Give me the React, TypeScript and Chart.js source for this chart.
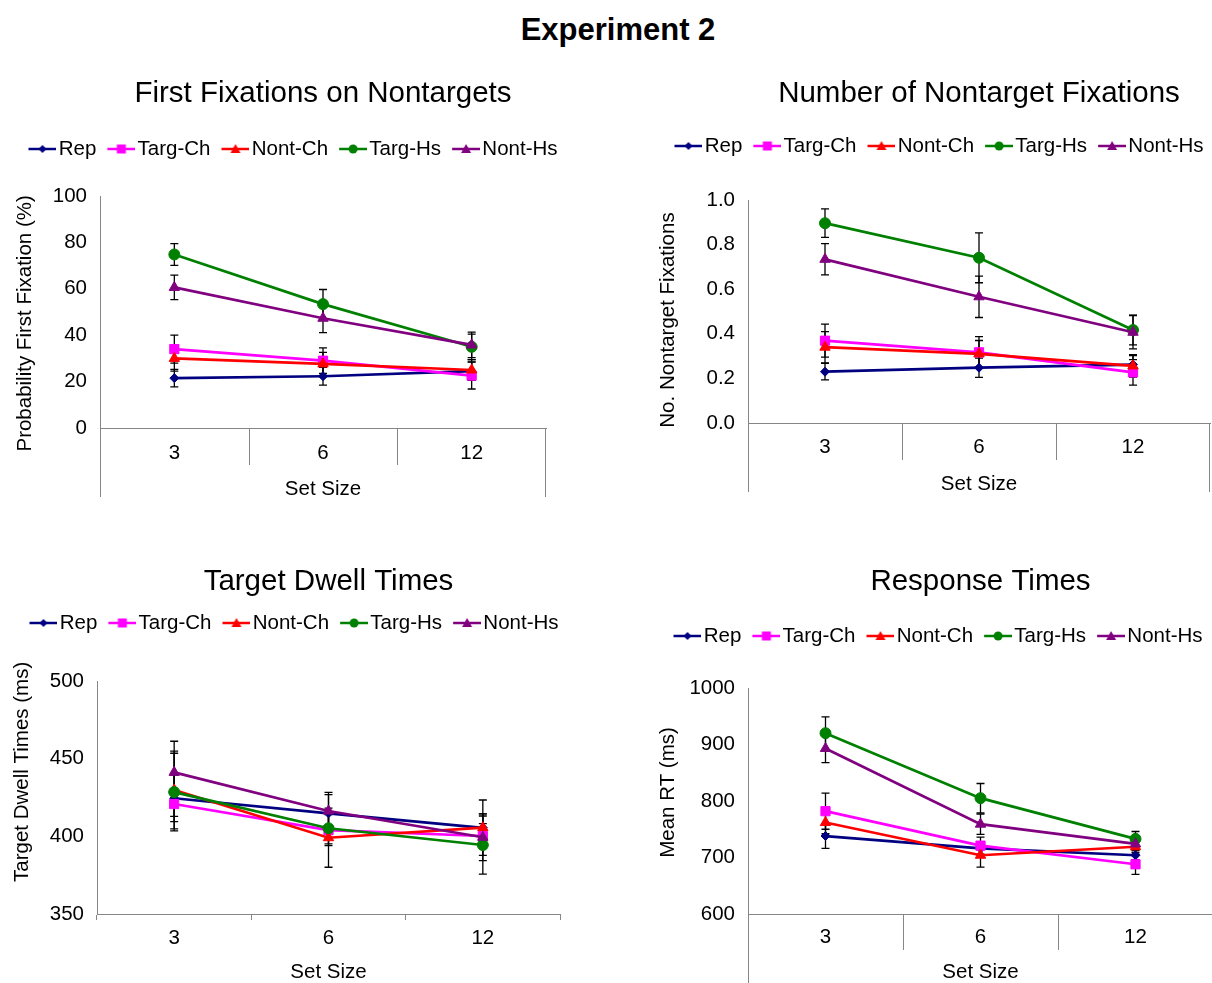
import React, { useEffect, useRef } from 'react';
import { Chart, registerables } from 'chart.js';

Chart.register(...registerables);

const FONT = "'Liberation Sans', Arial, Helvetica, sans-serif";
Chart.defaults.font.family = FONT;
Chart.defaults.color = '#000';

// ---------- data ----------
const setSizes = ['3', '6', '12'];
const seriesNames = ['Rep', 'Targ-Ch', 'Nont-Ch', 'Targ-Hs', 'Nont-Hs'];
const seriesColors = ['#000080', '#FF00FF', '#FF0000', '#008000', '#800080'];
const seriesMarkers = ['rectRot', 'rect', 'triangle', 'circle', 'triangle'];
const markerRadius = [4.5, 6.5, 6, 5.5, 6];

// First Fixations on Nontargets (%)
const ffRep = [21.5, 22.3, 24.5];
const ffTargCh = [34.0, 29.0, 22.6];
const ffNontCh = [30.0, 27.6, 25.0];
const ffTargHs = [74.8, 53.4, 35.0];
const ffNontHs = [60.6, 47.3, 35.8];
const ffRepErr = [3.8, 3.8, 4.0];
const ffTargChErr = [6.0, 5.5, 5.8];
const ffNontChErr = [5.5, 5.0, 4.5];
const ffTargHsErr = [4.7, 6.3, 5.5];
const ffNontHsErr = [5.3, 6.2, 5.5];

// Number of Nontarget Fixations
const nfRep = [0.23, 0.248, 0.262];
const nfTargCh = [0.369, 0.317, 0.227];
const nfNontCh = [0.34, 0.31, 0.256];
const nfTargHs = [0.896, 0.741, 0.417];
const nfNontHs = [0.734, 0.566, 0.407];
const nfRepErr = [0.037, 0.043, 0.04];
const nfTargChErr = [0.074, 0.07, 0.057];
const nfNontChErr = [0.07, 0.06, 0.05];
const nfTargHsErr = [0.064, 0.112, 0.067];
const nfNontHsErr = [0.07, 0.093, 0.075];

// Target Dwell Times (ms)
const dwRep = [424.5, 414.8, 405.5];
const dwTargCh = [420.8, 404.0, 400.2];
const dwNontCh = [429.8, 399.1, 405.6];
const dwTargHs = [428.5, 405.2, 394.4];
const dwNontHs = [441.2, 416.3, 399.4];
const dwRepErr = [15, 12, 9];
const dwTargChErr = [8, 10, 8];
const dwNontChErr = [25, 19, 17.8];
const dwTargHsErr = [25, 10, 18.7];
const dwNontHsErr = [20, 12, 15];

// Response Times (ms)
const rtRep = [738, 716, 704];
const rtTargCh = [782, 721, 688];
const rtNontCh = [762, 704, 719];
const rtTargHs = [920, 805, 733];
const rtNontHs = [893, 759, 724];
const rtRepErr = [22, 12, 8];
const rtTargChErr = [32, 15, 18];
const rtNontChErr = [20, 21, 10];
const rtTargHsErr = [29, 26, 13];
const rtNontHsErr = [25, 18, 10];

// ---------- plugins ----------
const errorBarPlugin = {
  id: 'errorBars',
  beforeDatasetsDraw(chart: any) {
    const ctx = chart.ctx;
    const y = chart.scales.y;
    ctx.save();
    ctx.strokeStyle = '#000';
    ctx.lineWidth = 1.3;
    chart.data.datasets.forEach((ds: any, i: number) => {
      const meta = chart.getDatasetMeta(i);
      if (!ds.errors) return;
      meta.data.forEach((pt: any, j: number) => {
        const v = ds.data[j];
        const e = ds.errors[j];
        const y1 = y.getPixelForValue(v + e);
        const y2 = y.getPixelForValue(v - e);
        const x = pt.x;
        ctx.beginPath();
        ctx.moveTo(x, y1); ctx.lineTo(x, y2);
        ctx.moveTo(x - 4, y1); ctx.lineTo(x + 4, y1);
        ctx.moveTo(x - 4, y2); ctx.lineTo(x + 4, y2);
        ctx.stroke();
      });
    });
    ctx.restore();
  },
};

const categoryLinesPlugin = {
  id: 'categoryLines',
  afterDraw(chart: any, _args: any, opts: any) {
    if (!opts || !opts.enabled) return;
    const ctx = chart.ctx;
    const xs = chart.scales.x;
    const { left, right, bottom } = chart.chartArea;
    ctx.save();
    ctx.strokeStyle = '#868686';
    ctx.lineWidth = 1;
    ctx.beginPath();
    ctx.moveTo(left + 0.5, bottom); ctx.lineTo(left + 0.5, bottom + opts.outerLen);
    ctx.moveTo(right - 0.5, bottom); ctx.lineTo(right - 0.5, bottom + opts.outerLen);
    const n = chart.data.labels.length;
    for (let i = 0; i < n - 1; i++) {
      const bx = Math.round((xs.getPixelForValue(i) + xs.getPixelForValue(i + 1)) / 2) + 0.5;
      ctx.moveTo(bx, bottom); ctx.lineTo(bx, bottom + opts.sepLen);
    }
    ctx.stroke();
    ctx.restore();
  },
};

function makeLegendIcon(color: string, marker: string) {
  const c = document.createElement('canvas');
  c.width = 38; c.height = 14;
  const ctx = c.getContext('2d') as CanvasRenderingContext2D;
  ctx.strokeStyle = color; ctx.lineWidth = 2.5;
  ctx.beginPath(); ctx.moveTo(10, 7); ctx.lineTo(38, 7); ctx.stroke();
  ctx.fillStyle = color;
  const cx = 24, cy = 7;
  ctx.beginPath();
  if (marker === 'rectRot') {
    ctx.moveTo(cx, cy - 4); ctx.lineTo(cx + 4, cy); ctx.lineTo(cx, cy + 4); ctx.lineTo(cx - 4, cy); ctx.closePath();
  } else if (marker === 'rect') {
    ctx.rect(cx - 4.5, cy - 4.5, 9, 9);
  } else if (marker === 'triangle') {
    ctx.moveTo(cx, cy - 5); ctx.lineTo(cx + 5, cy + 4); ctx.lineTo(cx - 5, cy + 4); ctx.closePath();
  } else {
    ctx.arc(cx, cy, 4.5, 0, Math.PI * 2);
  }
  ctx.fill();
  return c;
}

// ---------- panels ----------
type PanelCfg = {
  x: number; y: number; w: number; h: number;
  title: string; titlePadTop: number; titlePadBottom: number; spacer: number;
  yTitle: string; yTitlePad: number; yWidth: number; yMin: number; yMax: number; yStep: number; yDecimals: number;
  padRight: number; padBottom: number;
  xHeight: number; xTickPad: number; xTitlePadBottom: number;
  excelAxis: boolean; sepLen: number; outerLen: number;
  values: number[][]; errors: number[][];
};

const TITLE_FS = 29.5;
const LEGEND_FS = 20.5;
const AXIS_FS = 20.5;

const panels: PanelCfg[] = [
  {
    x: 0, y: 50, w: 584, h: 470,
    title: 'First Fixations on Nontargets', titlePadTop: 26.3, titlePadBottom: 18.05, spacer: 26.75,
    yTitle: 'Probability First Fixation (%)    ', yTitlePad: 12.7, yWidth: 100, yMin: 0, yMax: 100, yStep: 20, yDecimals: 0,
    padRight: 38, padBottom: 12, xHeight: 80, xTickPad: 12.7, xTitlePadBottom: 6.7,
    excelAxis: true, sepLen: 37, outerLen: 69,
    values: [ffRep, ffTargCh, ffNontCh, ffTargHs, ffNontHs],
    errors: [ffRepErr, ffTargChErr, ffNontChErr, ffTargHsErr, ffNontHsErr],
  },
  {
    x: 640, y: 50, w: 596, h: 465,
    title: 'Number of Nontarget Fixations', titlePadTop: 26.3, titlePadBottom: 15.05, spacer: 33.75,
    yTitle: 'No. Nontarget Fixations   ', yTitlePad: 15.7, yWidth: 108, yMin: 0, yMax: 1, yStep: 0.2, yDecimals: 1,
    padRight: 26, padBottom: 12, xHeight: 80, xTickPad: 11.7, xTitlePadBottom: 6.7,
    excelAxis: true, sepLen: 37, outerLen: 69,
    values: [nfRep, nfTargCh, nfNontCh, nfTargHs, nfNontHs],
    errors: [nfRepErr, nfTargChErr, nfNontChErr, nfTargHsErr, nfNontHsErr],
  },
  {
    x: 0, y: 540, w: 586, h: 450,
    title: 'Target Dwell Times', titlePadTop: 24.3, titlePadBottom: 4.05, spacer: 37.75,
    yTitle: '         Target Dwell Times (ms)', yTitlePad: 9.7, yWidth: 97, yMin: 350, yMax: 500, yStep: 50, yDecimals: 0,
    padRight: 26, padBottom: 4, xHeight: 72, xTickPad: 5.7, xTitlePadBottom: 1.7,
    excelAxis: false, sepLen: 0, outerLen: 0,
    values: [dwRep, dwTargCh, dwNontCh, dwTargHs, dwNontHs],
    errors: [dwRepErr, dwTargChErr, dwNontChErr, dwTargHsErr, dwNontHsErr],
  },
  {
    x: 640, y: 540, w: 594, h: 450,
    title: 'Response Times', titlePadTop: 24.3, titlePadBottom: 17.05, spacer: 31.75,
    yTitle: '   Mean RT (ms)', yTitlePad: 15.7, yWidth: 108, yMin: 600, yMax: 1000, yStep: 100, yDecimals: 0,
    padRight: 21, padBottom: 4, xHeight: 72, xTickPad: 10.7, xTitlePadBottom: 1.7,
    excelAxis: true, sepLen: 36, outerLen: 80,
    values: [rtRep, rtTargCh, rtNontCh, rtTargHs, rtNontHs],
    errors: [rtRepErr, rtTargChErr, rtNontChErr, rtTargHsErr, rtNontHsErr],
  },
];

const AXIS_GRAY = '#868686';

function Panel({ cfg }: { cfg: PanelCfg }) {
  const ref = useRef<HTMLCanvasElement | null>(null);
  useEffect(() => {
    const icons = seriesColors.map((c, i) => makeLegendIcon(c, seriesMarkers[i]));
    const chart = new Chart(ref.current as HTMLCanvasElement, {
      type: 'line',
      data: {
        labels: setSizes,
        datasets: cfg.values.map((vals, i) => ({
          label: seriesNames[i],
          data: vals,
          errors: cfg.errors[i],
          borderColor: seriesColors[i],
          backgroundColor: seriesColors[i],
          pointBackgroundColor: seriesColors[i],
          pointBorderColor: seriesColors[i],
          pointStyle: seriesMarkers[i],
          pointRadius: markerRadius[i],
          pointBorderWidth: 1,
          borderWidth: 2.7,
          tension: 0,
          order: -i,
        })) as any,
      },
      options: {
        responsive: false,
        devicePixelRatio: 1,
        animation: false,
        layout: { padding: { left: 0, top: 0, right: 0, bottom: cfg.padBottom } },
        plugins: {
          tooltip: { enabled: false },
          title: {
            display: true, text: cfg.title, fullSize: false, weight: 3000,
            font: { size: TITLE_FS, weight: 'normal' as any, family: FONT }, color: '#000',
            padding: { top: cfg.titlePadTop, bottom: cfg.titlePadBottom },
          } as any,
          legend: {
            display: true, position: 'top', weight: 2000, fullSize: true,
            labels: {
              usePointStyle: true, pointStyleWidth: 22, padding: 9,
              font: { size: LEGEND_FS, family: FONT }, color: '#000',
              generateLabels: (ch: any) => ch.data.datasets.map((ds: any, i: number) => ({
                text: ds.label, pointStyle: icons[i], fillStyle: seriesColors[i], strokeStyle: seriesColors[i],
                lineWidth: 0, hidden: false, datasetIndex: i, fontColor: '#000',
              })),
            },
          } as any,
          subtitle: {
            display: true, text: '', weight: 1000, position: 'top',
            font: { size: 1 }, padding: { top: cfg.spacer - 1.2, bottom: 0 },
          } as any,
          categoryLines: { enabled: cfg.excelAxis, sepLen: cfg.sepLen, outerLen: cfg.outerLen },
        } as any,
        scales: {
          x: {
            type: 'category',
            offset: true,
            grid: cfg.excelAxis
              ? { display: false, drawTicks: false, offset: true }
              : { display: true, drawOnChartArea: false, drawTicks: true, tickLength: 6, offset: true, color: AXIS_GRAY },
            border: { display: true, color: AXIS_GRAY, width: 1 },
            ticks: { padding: cfg.xTickPad, font: { size: AXIS_FS, family: FONT }, color: '#000', maxRotation: 0 },
            title: {
              display: true, text: 'Set Size', font: { size: AXIS_FS, family: FONT }, color: '#000',
              padding: { top: 0, bottom: cfg.xTitlePadBottom },
            },
            afterFit: (s: any) => { s.height = cfg.xHeight; },
          },
          y: {
            type: 'linear',
            min: cfg.yMin, max: cfg.yMax,
            grid: { display: false, drawTicks: false },
            border: { display: true, color: AXIS_GRAY, width: 1 },
            ticks: {
              stepSize: cfg.yStep, padding: 13, font: { size: AXIS_FS, family: FONT }, color: '#000',
              callback: (v: any) => Number(v).toFixed(cfg.yDecimals),
            },
            title: {
              display: true, text: cfg.yTitle, font: { size: AXIS_FS, family: FONT }, color: '#000',
              padding: { top: cfg.yTitlePad, bottom: 0 },
            },
            afterFit: (s: any) => { s.width = cfg.yWidth; },
          },
          // empty right-hand box that only reserves the right margin of the plot
          rightMargin: {
            type: 'linear',
            position: 'right',
            display: true,
            grid: { display: false, drawTicks: false },
            border: { display: false },
            ticks: { display: false },
            title: { display: false },
            afterFit: (s: any) => { s.width = cfg.padRight; },
          },
        } as any,
      },
      plugins: [errorBarPlugin, categoryLinesPlugin],
    });
    return () => chart.destroy();
  }, []);
  return (
    <canvas
      ref={ref}
      width={cfg.w}
      height={cfg.h}
      style={{ position: 'absolute', left: cfg.x, top: cfg.y, width: cfg.w, height: cfg.h }}
    />
  );
}

export default function App() {
  return (
    <div style={{ position: 'fixed', left: 0, top: 0, width: 1212, height: 983, overflow: 'hidden', background: '#fff' }}>
      <div style={{
        position: 'absolute', left: 0, top: 12, width: 1236, textAlign: 'center',
        fontFamily: FONT, fontWeight: 'bold', fontSize: 31, lineHeight: '36px', color: '#000',
      }}>Experiment 2</div>
      {panels.map((p, i) => <Panel key={i} cfg={p} />)}
    </div>
  );
}
